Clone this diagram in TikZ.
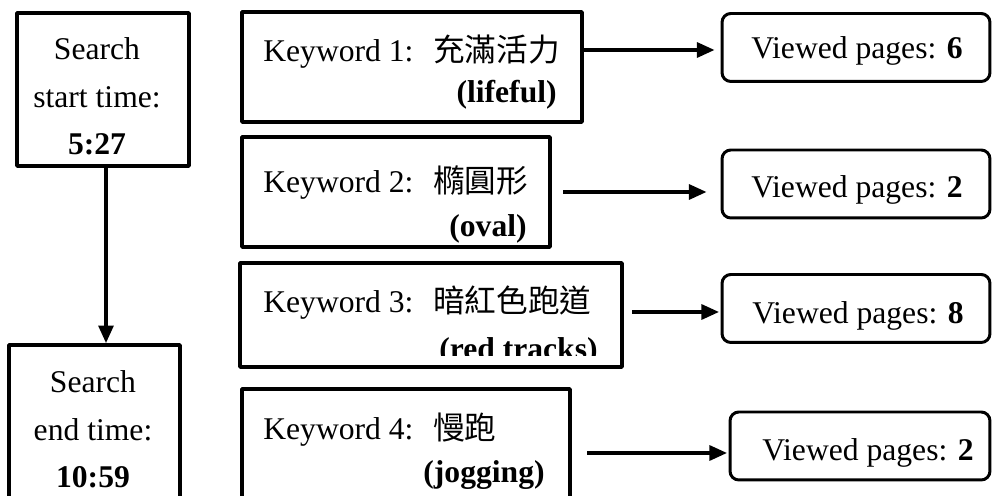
\documentclass[tikz,border=0pt]{standalone}
\usepackage{fontspec}
\setmainfont{Liberation Serif}
\newfontfamily\cjk{Noto Sans CJK TC}
\usetikzlibrary{arrows.meta}

\tikzset{
	txt/.style={inner sep=0pt, font=\fontsize{18}{27.3}\selectfont},
	sqbox/.style 2 args={draw, line width=2.2pt, inner sep=0pt, minimum width=#1, minimum height=#2},
	vpbox/.style={draw, line width=1.7pt, rounded corners=5pt, inner sep=0pt, minimum width=#1, minimum height=1.36cm},
	arr/.style={->, line width=1.9pt},
}

\begin{document}
\begin{tikzpicture}[x=0.02cm, y=-0.02cm, line join=round, >={Triangle[length=10pt,width=8.5pt]}]
	\useasboundingbox (0,0) rectangle (992,496);
	% time boxes
	\node[sqbox={3.44cm}{3.06cm}] (stime) at (103,89.5) {};
	\node[sqbox={3.42cm}{4.3cm}] (etime) at (94.5,452.5) {};
	\node[txt, align=center, anchor=base] (stimetext) at (97,155) {Search\\start time:\\\textbf{5:27}};
	\node[txt, align=center, anchor=base] (etimetext) at (93,488) {Search\\end time:\\\textbf{10:59}};
	\coordinate (vline) at (106,250);
	\draw[arr] (vline |- stime.south) -- (vline |- etime.north);
	% keyword boxes
	\node[sqbox={6.8cm}{2.2cm}] (kw1) at (412,67) {};
	\node[sqbox={6.16cm}{2.2cm}] (kw2) at (396,192) {};
	\node[sqbox={7.64cm}{2.08cm}] (kw3) at (431,315) {};
	\node[sqbox={6.56cm}{4.22cm}] (kw4) at (406,494.5) {};
	\foreach \i/\y/\w in {1/62/充滿活力, 2/193/橢圓形, 3/313/暗紅色跑道, 4/440/慢跑}{
		\node[txt, anchor=base west] (kw\i a) at (263,\y) {Keyword \i:};
		\node[txt, anchor=base west] (kw\i c) at (433,\y) {\cjk \w};
	}
	\node[txt, anchor=base east] (kw1b) at (557,103) {\textbf{(lifeful)}};
	\node[txt, anchor=base east] (kw2b) at (527,237) {\textbf{(oval)}};
	\begin{scope}
		\clip (240,263) rectangle (622,356);
		\node[txt, anchor=base east] (kw3b) at (598,360) {\textbf{(red tracks)}};
	\end{scope}
	\node[txt, anchor=base east] (kw4b) at (545,483) {\textbf{(jogging)}};
	% viewed pages
	\node[vpbox=5.36cm] (vp1) at (856,47.5) {};
	\node[vpbox=5.36cm] (vp2) at (856,184) {};
	\node[vpbox=5.36cm] (vp3) at (856,308.5) {};
	\node[vpbox=5.2cm] (vp4) at (860,446) {};
	\foreach \i/\x/\y/\n in {1/857/59/6, 2/857/198/2, 3/858/324/8, 4/868/461/2}{
		\node[txt, anchor=base] (vp\i t) at (\x,\y) {Viewed pages: \textbf{\n}};
	}
	% arrows
	\coordinate (a1) at (582,50);
	\coordinate (a2) at (563,192);
	\coordinate (a3) at (632,312);
	\coordinate (a4) at (587,453);
	\draw[arr, shorten >=0.12cm] (a1) -- (a1 -| vp1.west);
	\draw[arr, shorten >=0.28cm] (a2) -- (a2 -| vp2.west);
	\draw[arr, shorten >=0.03cm] (a3) -- (a3 -| vp3.west);
	\draw[arr, shorten >=0.03cm] (a4) -- (a4 -| vp4.west);
\end{tikzpicture}
\end{document}
